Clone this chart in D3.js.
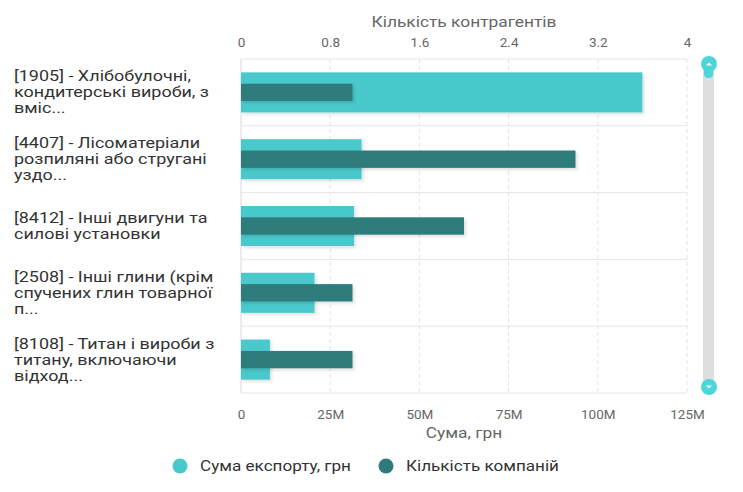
<!DOCTYPE html>
<html>
<head>
<meta charset="utf-8">
<script src="https://cdn.jsdelivr.net/npm/d3@7"></script>
<style>
  body { margin: 0; background: #fff; font-family: Roboto, "Noto Sans", sans-serif; }
</style>
</head>
<body>
<div id="chart"></div>
<script>
// категорії (вже розбиті на рядки, як на картинці)
const categories = [
  ["[1905] - Хлібобулочні,", "кондитерські вироби, з", "вміс..."],
  ["[4407] - Лісоматеріали", "розпиляні або стругані", "уздо..."],
  ["[8412] - Інші двигуни та", "силові установки"],
  ["[2508] - Інші глини (крім", "спучених глин товарної", "п..."],
  ["[8108] - Титан і вироби з", "титану, включаючи", "відход..."]
];
const exportSum = [112.5e6, 33.8e6, 31.7e6, 20.6e6, 8.1e6];
const companyCount = [1, 3, 2, 1, 1];
const sumTicks = [0, 25e6, 50e6, 75e6, 100e6, 125e6];
const countTicks = [0, 0.8, 1.6, 2.4, 3.2, 4];
const legendItems = ["Сума експорту, грн", "Кількість компаній"];

const W = 743, H = 492;
const m = {top: 59, left: 241, right: 56, bottom: 99};
const w = W - m.left - m.right, h = H - m.top - m.bottom;
const colLight = "#48c9cc", colDark = "#2e7b7b";
const SX = 1.24; // текст на референсі трохи розтягнутий по горизонталі

const svg = d3.select("#chart").append("svg")
  .attr("width", W).attr("height", H);

const defs = svg.append("defs");
const f = defs.append("filter").attr("id", "shadow")
  .attr("x", "-5%").attr("y", "-20%").attr("width", "120%").attr("height", "160%");
f.append("feDropShadow").attr("dx", 2).attr("dy", 2).attr("stdDeviation", 1.5)
  .attr("flood-color", "#000").attr("flood-opacity", 0.12);

// текст з розтягом навколо точки прив'язки
function stretchText(parent, tx, ty, str, sx) {
  return parent.append("text")
    .attr("transform", `translate(${tx},${ty}) scale(${sx},1)`)
    .text(str);
}

const g = svg.append("g").attr("transform", `translate(${m.left},${m.top})`);

const x = d3.scaleLinear().domain([0, 125e6]).range([0, w]);
const x2 = d3.scaleLinear().domain([0, 4]).range([0, w]);
const y = d3.scaleBand().domain(d3.range(categories.length)).range([0, h]);

// сітка
g.append("g").selectAll("line.h")
  .data(d3.range(categories.length + 1))
  .join("line")
  .attr("x1", 0).attr("x2", w)
  .attr("y1", d => d * y.step()).attr("y2", d => d * y.step())
  .attr("stroke", "#e6e6e6");

g.append("g").selectAll("line.v")
  .data(sumTicks.slice(1))
  .join("line")
  .attr("x1", d => x(d)).attr("x2", d => x(d))
  .attr("y1", 0).attr("y2", h)
  .attr("stroke", "#e3e3e3")
  .attr("stroke-dasharray", "4,3");

g.append("line").attr("x1", 0).attr("x2", 0).attr("y1", 0).attr("y2", h)
  .attr("stroke", "#d5d8e0");

// стовпчики
const bw1 = y.bandwidth() * 0.6, bw2 = y.bandwidth() * 0.26;
g.append("g").selectAll("rect")
  .data(exportSum)
  .join("rect")
  .attr("x", 0)
  .attr("y", (d, i) => y(i) + (y.bandwidth() - bw1) / 2)
  .attr("width", d => x(d))
  .attr("height", bw1)
  .attr("fill", colLight)
  .attr("filter", "url(#shadow)");

g.append("g").selectAll("rect")
  .data(companyCount)
  .join("rect")
  .attr("x", 0)
  .attr("y", (d, i) => y(i) + (y.bandwidth() - bw2) / 2)
  .attr("width", d => x2(d))
  .attr("height", bw2)
  .attr("fill", colDark)
  .attr("filter", "url(#shadow)");

// осі
const fmtM = d => d === 0 ? "0" : (d / 1e6) + "M";
const bottomAxis = g.append("g").attr("transform", `translate(0,${h})`)
  .call(d3.axisBottom(x).tickValues(sumTicks).tickFormat(fmtM).tickSize(0).tickPadding(17));
const topAxis = g.append("g")
  .call(d3.axisTop(x2).tickValues(countTicks).tickFormat(d3.format("")).tickSize(0).tickPadding(12));
[bottomAxis, topAxis].forEach(a => {
  a.select(".domain").remove();
  a.selectAll("text").attr("fill", "#666").style("font-size", "12.5px")
    .style("font-family", "Roboto, sans-serif")
    .attr("transform", "scale(1.08,1)");
});

const t1 = stretchText(svg, m.left + w / 2, 27, "Кількість контрагентів", SX);
const t2 = stretchText(svg, m.left + w / 2, 438, "Сума, грн", SX);
[t1, t2].forEach(t => t.attr("text-anchor", "middle").attr("fill", "#666").style("font-size", "14px"));

// підписи категорій
categories.forEach((lines, i) => {
  const cy = m.top + y(i) + y.bandwidth() / 2;
  const lh = 16;
  const y0 = cy - (lines.length - 1) * lh / 2 + 5;
  lines.forEach((s, k) => {
    stretchText(svg, 14, y0 + k * lh, s, SX)
      .attr("fill", "#333").style("font-size", "14.5px");
  });
});

// скролбар
const sb = svg.append("g");
sb.append("rect").attr("x", 703).attr("y", 64).attr("width", 11).attr("height", 322)
  .attr("fill", "#dedede");
sb.append("rect").attr("x", 704).attr("y", 62).attr("width", 9).attr("height", 16).attr("rx", 4)
  .attr("fill", "#4dd6d9");
[[709, 64, -1], [709, 387, 1]].forEach(([cx, cy, dir]) => {
  sb.append("circle").attr("cx", cx).attr("cy", cy).attr("r", 8).attr("fill", "#4dd6d9");
  sb.append("path")
    .attr("d", dir < 0 ? `M${cx - 3},${cy + 1.5}L${cx},${cy - 1.5}L${cx + 3},${cy + 1.5}Z`
                       : `M${cx - 3},${cy - 1.5}L${cx},${cy + 1.5}L${cx + 3},${cy - 1.5}Z`)
    .attr("fill", "#fff");
});

// легенда
const lg = svg.append("g").selectAll("g")
  .data(legendItems)
  .join("g")
  .attr("transform", (d, i) => `translate(${[180, 386][i]},466)`);
lg.append("circle").attr("r", 7.5).attr("fill", (d, i) => [colLight, colDark][i]);
lg.append("text").attr("x", 17).attr("y", 5).attr("fill", "#333")
  .attr("transform", "scale(1.18,1)")
  .style("font-size", "14.5px").text(d => d);
</script>
</body>
</html>
